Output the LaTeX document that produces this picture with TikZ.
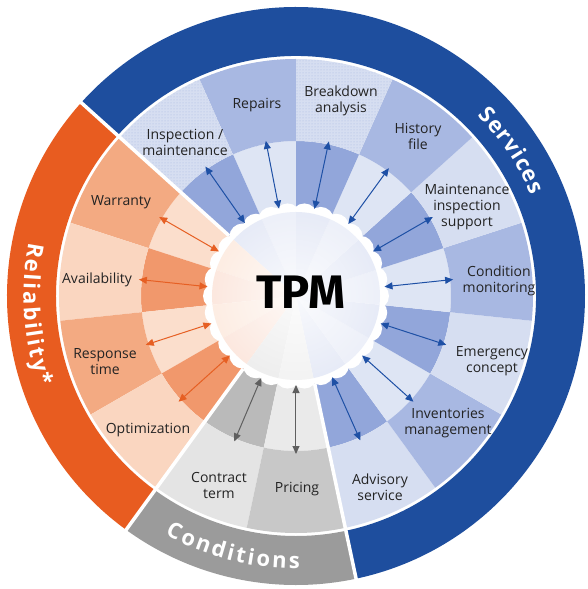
\documentclass[tikz,border=0pt]{standalone}
\usepackage{fontspec}
\setmainfont{Open Sans}
\newfontfamily\ringfont{Open Sans}
\newfontfamily\tpmfont{Fira Sans}
\usetikzlibrary{arrows.meta,decorations.text,fadings,patterns}

\definecolor{bluering}{RGB}{30,78,158}
\definecolor{orring}{RGB}{232,92,32}
\definecolor{grring}{RGB}{155,155,155}
\definecolor{blL}{RGB}{214,222,241}
\definecolor{blD}{RGB}{168,184,226}
\definecolor{blI}{RGB}{146,166,218}
\definecolor{blIL}{RGB}{222,229,244}
\definecolor{orL}{RGB}{250,214,192}
\definecolor{orD}{RGB}{243,170,130}
\definecolor{orI}{RGB}{241,152,108}
\definecolor{orIL}{RGB}{251,222,204}
\definecolor{grL}{RGB}{228,228,228}
\definecolor{grD}{RGB}{200,200,200}
\definecolor{grI}{RGB}{186,186,186}
\definecolor{grIL}{RGB}{234,234,234}
\definecolor{txt}{RGB}{35,35,35}
\definecolor{arB}{RGB}{30,80,165}
\definecolor{arO}{RGB}{230,95,35}
\definecolor{arG}{RGB}{95,95,95}

\newcommand\annpath[4]{(#1:#3pt) arc[start angle=#1,end angle=#2,radius=#3pt] -- (#2:#4pt) arc[start angle=#2,end angle=#1,radius=#4pt] -- cycle}
\newcommand\ringtext{\ringfont\bfseries\fontsize{22}{24}\selectfont\color{white}}
\tikzfading[name=centerfade, inner color=transparent!0, outer color=transparent!100]

\begin{document}
\begin{tikzpicture}[x=1pt,y=1pt,
  lbl/.style={font=\fontsize{14}{16}\selectfont, text=txt, align=center, inner sep=0pt},
  conn/.style={line width=1pt, arrows={Triangle[length=8pt,width=7pt]-Triangle[length=8pt,width=7pt]}}]
\useasboundingbox[fill=white] (-296,-293) rectangle (291,296);

% outer ring
\fill[bluering] \annpath{-78}{138}{240}{289};
\fill[orring] \annpath{138}{234}{240}{289};
\fill[grring] \annpath{234}{282}{240}{289};

% segments
\foreach \a/\ci/\co in {-78/blI/blL, -54/blIL/blD, -30/blI/blL, -6/blIL/blD, 18/blI/blL, 42/blIL/blD, 66/blI/blL, 90/blIL/blD, 114/blI/blL, 138/orIL/orD, 162/orI/orL, 186/orIL/orD, 210/orI/orL, 234/grI/grL, 258/grIL/grD}{
  \pgfmathsetmacro\b{\a+24}
  \fill[\ci] \annpath{\a}{\b}{80}{155};
  \fill[\co] \annpath{\a}{\b}{155}{237};
}
\fill[pattern=crosshatch dots, pattern color=blD] \annpath{90}{114}{155}{237};
\fill[pattern=dots, pattern color=blD] \annpath{114}{138}{155}{237};
\fill[pattern=dots, pattern color=blD] \annpath{66}{90}{155}{237};

% section separators
\foreach \a in {138,234,282}
  \draw[white, line width=3.5pt] (\a:90pt) -- (\a:293pt);

% centre disc with scalloped white rim
\foreach \k in {0,...,29}
  \fill[white] (\k*12:80pt) circle (13pt);
\fill[white] (0,0) circle (86pt);
\foreach \a/\c in {-78/blI!22, -54/blL!45, -30/blI!22, -6/blL!45, 18/blI!22, 42/blL!45, 66/blI!22, 90/blL!45, 114/blI!22, 138/orL!45, 162/orI!22, 186/orL!45, 210/orI!22, 234/grI!25, 258/grL!45}{
  \pgfmathsetmacro\b{\a+24}
  \fill[\c] (0,0) -- (\a:84pt) arc[start angle=\a, end angle=\b, radius=84pt] -- cycle;
}
\fill[white, path fading=centerfade, opacity=0.75] (0,0) circle (84pt);

% connectors
\foreach \c/\n/\col in {-66/adv/arB, -42/inv/arB, -18/eme/arB, 6/cnd/arB, 30/mis/arB, 54/his/arB, 78/brk/arB, 101/rep/arB, 125/ins/arB, 150/war/arO, 174/ava/arO, 198/res/arO, 222/opt/arO, 247/con/arG, 270/pri/arG}{
  \coordinate (\n-in) at (\c:89pt);
  \coordinate (\n-out) at (\c:158pt);
  \draw[conn, \col] (\n-in) -- (\n-out);
}

% labels
\node[lbl] (ins) at (-111,154) {Inspection /\\maintenance};
\node[lbl] (rep) at (-39,191) {Repairs};
\node[lbl] (brk) at (45,195) {Breakdown\\analysis};
\node[lbl] (his) at (122,160) {History\\file};
\node[lbl] (mis) at (171,89) {Maintenance\\inspection\\support};
\node[lbl] (cnd) at (203,15) {Condition\\monitoring};
\node[lbl] (eme) at (196,-65) {Emergency\\concept};
\node[lbl] (inv) at (152,-127) {Inventories\\management};
\node[lbl] (adv) at (84,-191) {Advisory\\service};
\node[lbl] (war) at (-175,94) {Warranty};
\node[lbl] (ava) at (-199,16) {Availability};
\node[lbl] (res) at (-191,-66) {Response\\time};
\node[lbl] (opt) at (-148,-134) {Optimization};
\node[lbl] (con) at (-77,-189) {Contract\\term};
\node[lbl] (pri) at (1,-193) {Pricing};
\node[inner sep=0pt, font=\tpmfont\bfseries\fontsize{47}{50}\selectfont, text=black] (tpm) at (5,4) {TPM};

% ring titles
\path[decorate, decoration={text along path, text align=center,
  text={|\ringtext|{S\kern1pt}{e\kern1pt}{r\kern1pt}{v\kern1pt}{i\kern1pt}{c\kern1pt}{e\kern1pt}s}}]
  (58:256pt) arc[start angle=58, end angle=10, radius=256pt];
\path[decorate, decoration={text along path, text align=center,
  text={|\ringtext|{R\kern2.2pt}{e\kern2.2pt}{l\kern2.2pt}{i\kern2.2pt}{a\kern2.2pt}{b\kern2.2pt}{i\kern2.2pt}{l\kern2.2pt}{i\kern2.2pt}{t\kern2.2pt}{y\kern2.2pt}*}}]
  (148:272.5pt) arc[start angle=148, end angle=220, radius=272.5pt];
\path[decorate, decoration={text along path, text align=center,
  text={|\ringtext|{C\kern2.5pt}{o\kern2.5pt}{n\kern2.5pt}{d\kern2.5pt}{i\kern2.5pt}{t\kern2.5pt}{i\kern2.5pt}{o\kern2.5pt}{n\kern2.5pt}s}}]
  (224:272.5pt) arc[start angle=224, end angle=288, radius=272.5pt];
\end{tikzpicture}
\end{document}
